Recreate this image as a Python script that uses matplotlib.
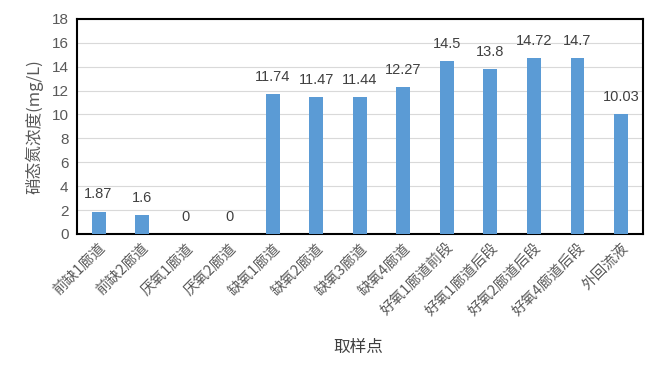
import matplotlib
matplotlib.use("Agg")
import matplotlib.pyplot as plt

plt.rcParams['font.family'] = ['Noto Sans CJK SC', 'DejaVu Sans']

categories = ["前缺1廊道", "前缺2廊道", "厌氧1廊道", "厌氧2廊道", "缺氧1廊道", "缺氧2廊道",
              "缺氧3廊道", "缺氧4廊道", "好氧1廊道前段", "好氧1廊道后段", "好氧2廊道后段",
              "好氧4廊道后段", "外回流液"]
values = [1.87, 1.6, 0, 0, 11.74, 11.47, 11.44, 12.27, 14.5, 13.8, 14.72, 14.7, 10.03]
value_labels = ["1.87", "1.6", "0", "0", "11.74", "11.47", "11.44", "12.27", "14.5", "13.8",
                "14.72", "14.7", "10.03"]
yticks = [0, 2, 4, 6, 8, 10, 12, 14, 16, 18]

fig = plt.figure(figsize=(6.62, 3.78), dpi=100)
ax = fig.add_axes([0.116, 0.381, 0.855, 0.569])
x = list(range(len(categories)))
ax.bar(x, values, width=0.32, color='#5B9BD5', zorder=3)
for xi, v, lab in zip(x, values, value_labels):
    ax.text(xi, v + 0.85, lab, ha='center', va='bottom', fontsize=10.5, color='#404040',
            family=['Liberation Sans', 'DejaVu Sans'])

ax.set_xlim(-0.5, len(categories) - 0.5)
ax.set_ylim(0, 18)
ax.set_yticks(yticks)
ax.set_yticklabels([str(t) for t in yticks], fontsize=11, color='#595959',
                   family=['Liberation Sans', 'DejaVu Sans'])
ax.set_xticks(x)
ax.set_xticklabels(categories, rotation=45, ha='right', rotation_mode='anchor',
                   fontsize=10.5, color='#595959')
ax.tick_params(axis='y', length=0, pad=6)
ax.tick_params(axis='x', length=0, pad=5)
ax.grid(axis='y', color='#D9D9D9', linewidth=0.8, zorder=0)
for s in ax.spines.values():
    s.set_color('black')
    s.set_linewidth(1.5)

ax.set_ylabel("硝态氮浓度(mg/L)", fontsize=12, color='#595959', labelpad=6)
fig.text(0.541, 0.082, "取样点", ha='center', va='center', fontsize=12, color='#404040')

fig.savefig("out.png", dpi=100)
